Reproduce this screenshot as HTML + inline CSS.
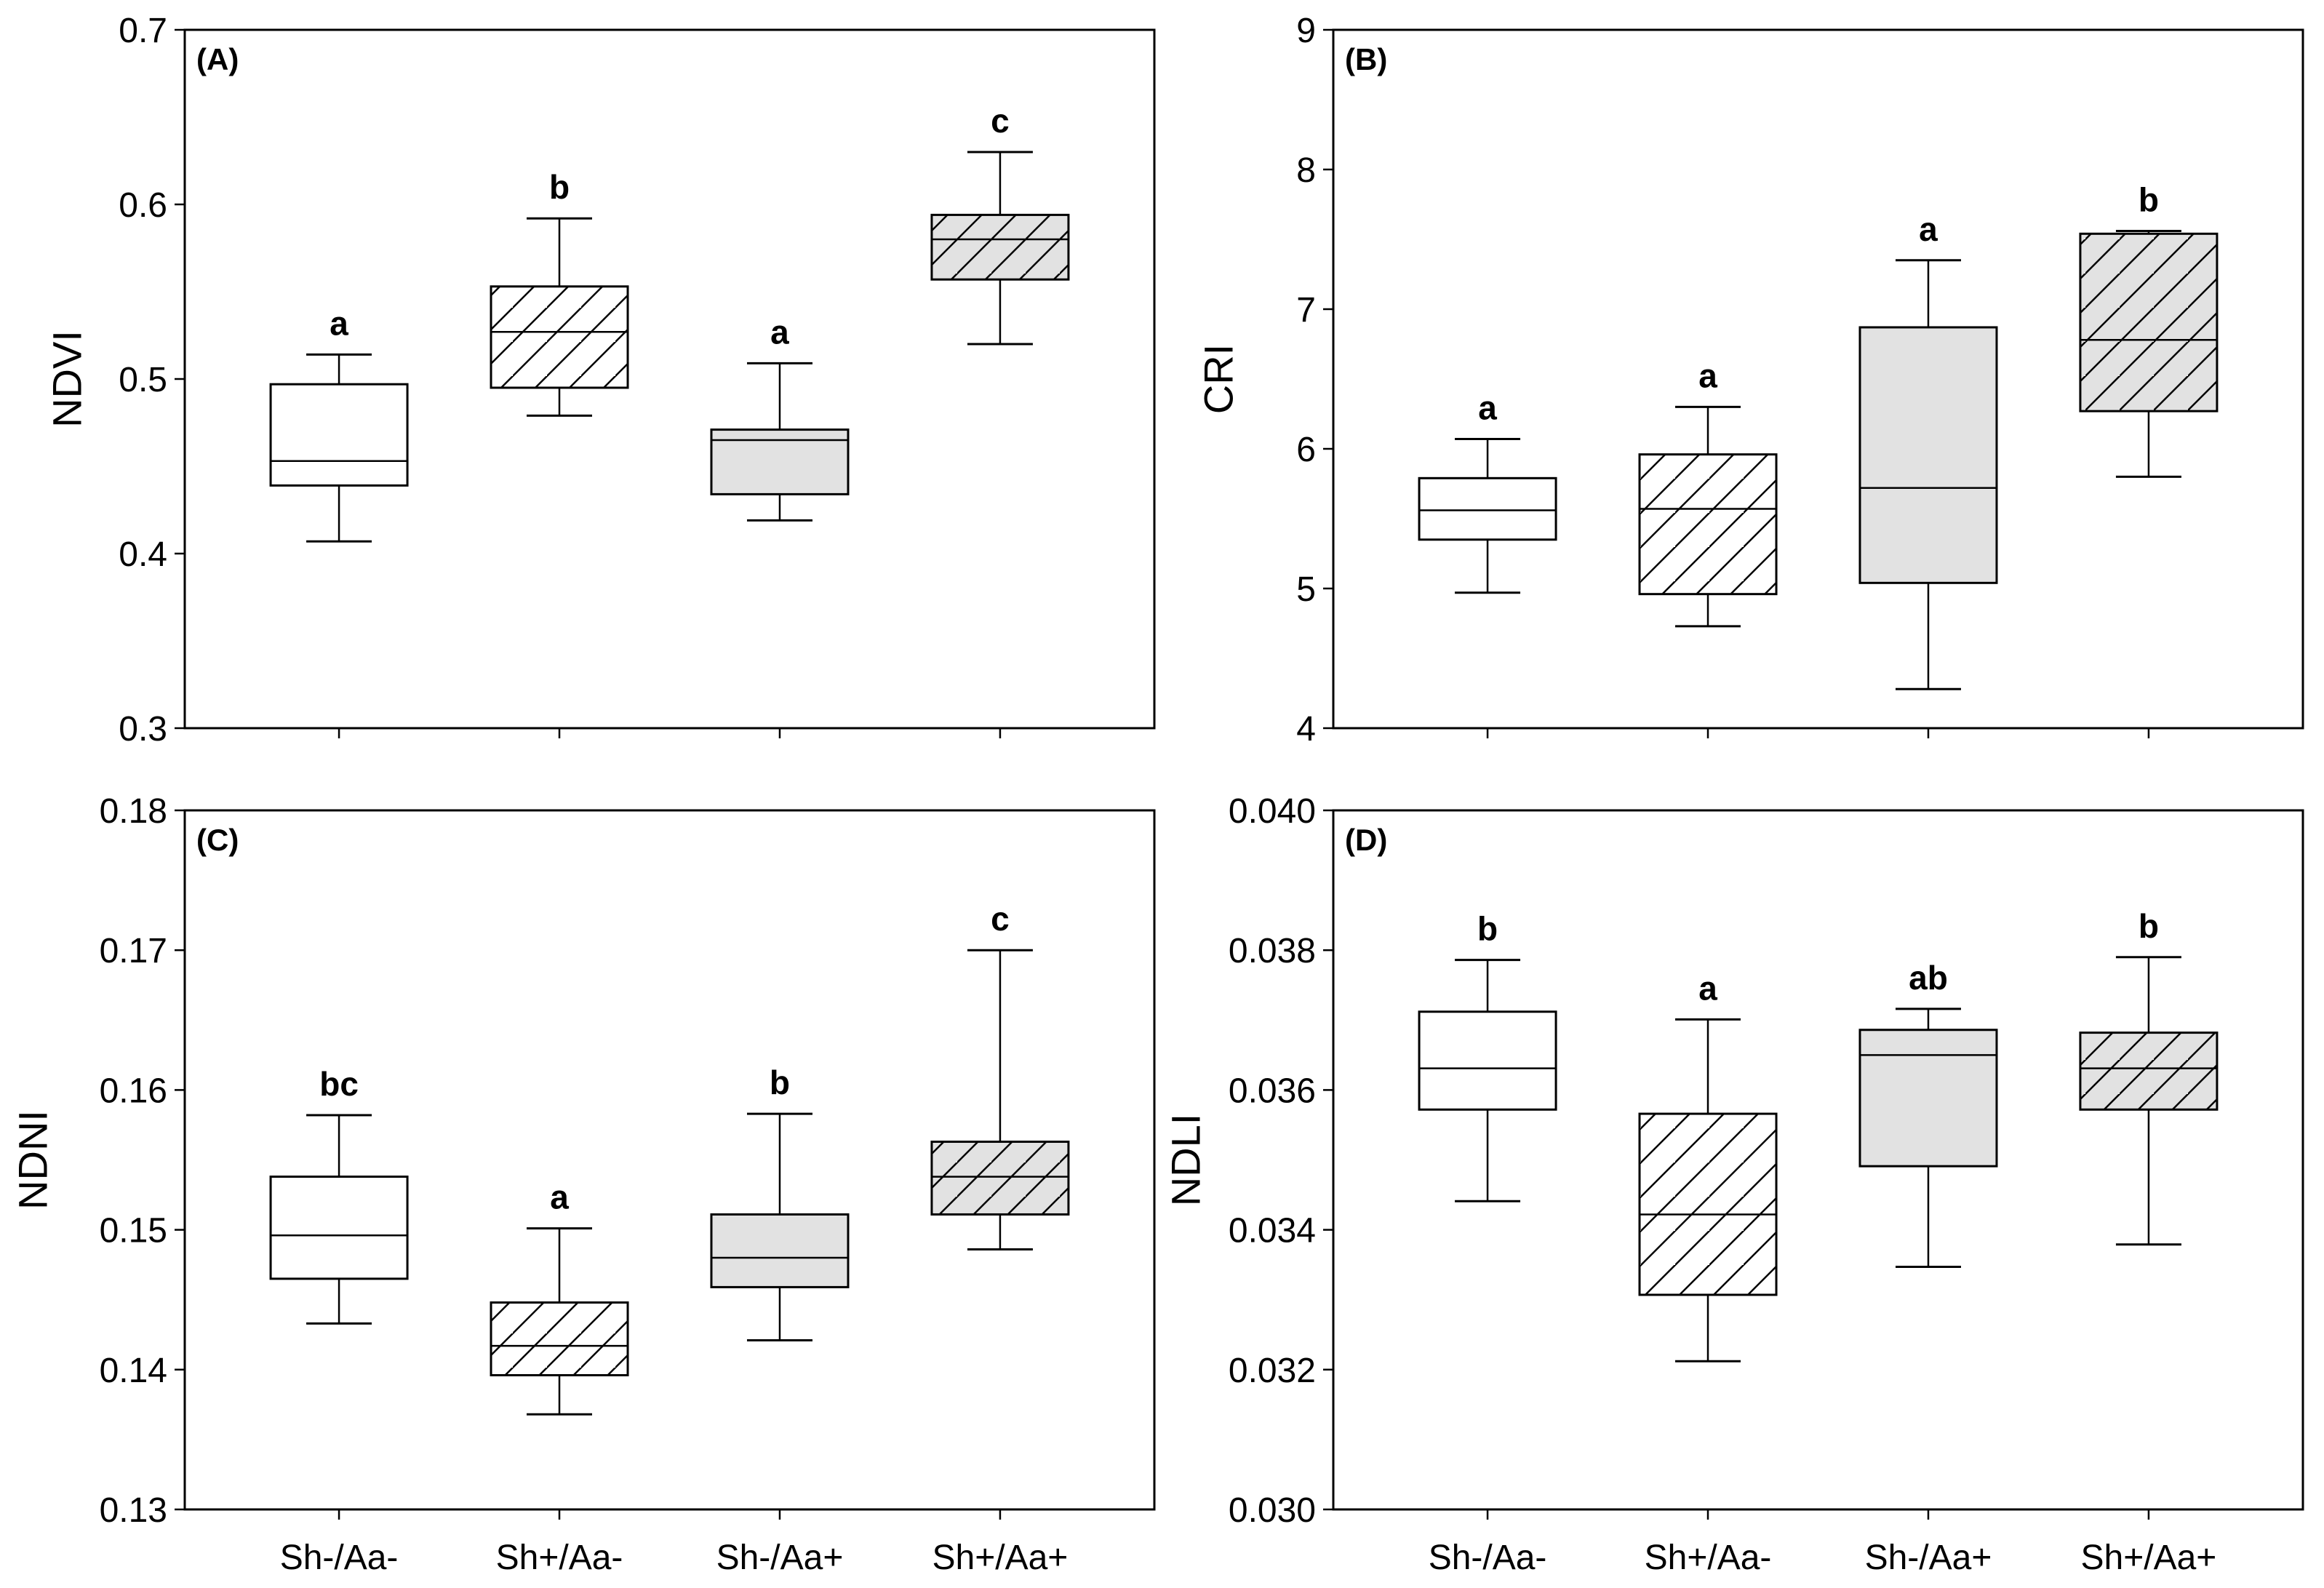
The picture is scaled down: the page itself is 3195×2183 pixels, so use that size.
<!DOCTYPE html>
<html><head><meta charset="utf-8"><style>
html,body{margin:0;padding:0;background:#fff;}
svg{display:block;font-family:"Liberation Sans",Arial,sans-serif;}
</style></head><body>
<svg id="chart" width="3195" height="2183" viewBox="0 0 3195 2183">
<defs>
<pattern id="hatch" patternUnits="userSpaceOnUse" width="47" height="47">
<path d="M-10,57 L57,-10 M-57,57 L57,-57 M10,104 L104,-10" stroke="#000" stroke-width="2.5"/>
</pattern>
</defs>
</svg>
<script>
const categories = ["Sh-/Aa-","Sh+/Aa-","Sh-/Aa+","Sh+/Aa+"];
const fills = ["white","hatch","gray","grayhatch"];
// [whiskerLow, q1, median, q3, whiskerHigh]
const ndviValues = [[0.407,0.439,0.453,0.497,0.514],[0.479,0.495,0.527,0.553,0.592],[0.419,0.434,0.465,0.471,0.509],[0.520,0.557,0.580,0.594,0.630]];
const ndviLetters = ["a","b","a","c"];
const ndviTicks = ["0.3","0.4","0.5","0.6","0.7"];
const criValues = [[4.97,5.35,5.56,5.79,6.07],[4.73,4.96,5.57,5.96,6.30],[4.28,5.04,5.72,6.87,7.35],[5.80,6.27,6.78,7.54,7.56]];
const criLetters = ["a","a","a","b"];
const criTicks = ["4","5","6","7","8","9"];
const ndniValues = [[0.1433,0.1465,0.1496,0.1538,0.1582],[0.1368,0.1396,0.1417,0.1448,0.1501],[0.1421,0.1459,0.1480,0.1511,0.1583],[0.1486,0.1511,0.1538,0.1563,0.1700]];
const ndniLetters = ["bc","a","b","c"];
const ndniTicks = ["0.13","0.14","0.15","0.16","0.17","0.18"];
const ndliValues = [[0.03441,0.03572,0.03631,0.03712,0.03786],[0.03212,0.03307,0.03422,0.03566,0.03701],[0.03347,0.03491,0.03650,0.03686,0.03716],[0.03379,0.03572,0.03631,0.03682,0.03790]];
const ndliLetters = ["b","a","ab","b"];
const ndliTicks = ["0.030","0.032","0.034","0.036","0.038","0.040"];

const NS="http://www.w3.org/2000/svg";
const svg=document.getElementById('chart');
function mk(tag,attrs,parent){const e=document.createElementNS(NS,tag);for(const k in attrs)e.setAttribute(k,attrs[k]);(parent||svg).appendChild(e);return e;}

const panels=[
 {id:"a",label:"(A)",title:"NDVI",vals:ndviValues,letters:ndviLetters,ticks:ndviTicks,x0:254,x1:1587,y0:41,y1:1001,tx:92,showX:false},
 {id:"b",label:"(B)",title:"CRI",vals:criValues,letters:criLetters,ticks:criTicks,x0:1833,x1:3166,y0:41,y1:1001,tx:1675,showX:false},
 {id:"c",label:"(C)",title:"NDNI",vals:ndniValues,letters:ndniLetters,ticks:ndniTicks,x0:254,x1:1587,y0:1114,y1:2075,tx:45,showX:true},
 {id:"d",label:"(D)",title:"NDLI",vals:ndliValues,letters:ndliLetters,ticks:ndliTicks,x0:1833,x1:3166,y0:1114,y1:2075,tx:1630,showX:true}
];

panels.forEach(p=>{
 const g=mk('g',{});
 
 
 const tmin=parseFloat(p.ticks[0]), tmax=parseFloat(p.ticks[p.ticks.length-1]);
 const yS=v=>p.y1-(v-tmin)/(tmax-tmin)*(p.y1-p.y0);
 const xS=i=>p.x0+(i+1-0.3)/4.4*(p.x1-p.x0);
 const frame=mk('rect',{x:p.x0,y:p.y0,width:p.x1-p.x0,height:p.y1-p.y0,fill:"none",stroke:"#000","stroke-width":3},g);
 
 
 p.ticks.forEach(t=>{
  const y=yS(parseFloat(t));
  mk('line',{x1:p.x0-14,x2:p.x0,y1:y,y2:y,stroke:"#000","stroke-width":2.5},g);
  const tl=mk('text',{x:p.x0-24,y:y+17,"text-anchor":"end","font-size":48},g);
  tl.textContent=t;
  
  
 });
 const yt=mk('text',{x:p.tx,y:(p.y0+p.y1)/2,"text-anchor":"middle","font-size":56,transform:`rotate(-90 ${p.tx} ${(p.y0+p.y1)/2})`,dy:"0.35em"},g);
 yt.textContent=p.title;
 
 
 const pl=mk('text',{x:p.x0+16,y:p.y0+55,"font-size":42,"font-weight":"bold"},g);
 pl.textContent=p.label;
 
 
 const bw=188, cw=90;
 p.vals.forEach((v,i)=>{
  const cx=xS(i);
  mk('line',{x1:cx,x2:cx,y1:p.y1,y2:p.y1+14,stroke:"#000","stroke-width":2.5},g);
  if(p.showX){
   const xl=mk('text',{x:cx,y:p.y1+82,"text-anchor":"middle","font-size":48},g);
   xl.textContent=categories[i];
   
   
  }
  const bg=mk('g',{},g);
  
  
  const [lo,q1,md,q3,hi]=v;
  mk('line',{x1:cx,x2:cx,y1:yS(hi),y2:yS(q3),stroke:"#000","stroke-width":2.5},bg);
  mk('line',{x1:cx,x2:cx,y1:yS(q1),y2:yS(lo),stroke:"#000","stroke-width":2.5},bg);
  mk('line',{x1:cx-cw/2,x2:cx+cw/2,y1:yS(hi),y2:yS(hi),stroke:"#000","stroke-width":3},bg);
  mk('line',{x1:cx-cw/2,x2:cx+cw/2,y1:yS(lo),y2:yS(lo),stroke:"#000","stroke-width":3},bg);
  const f=fills[i];
  const base=(f==="gray"||f==="grayhatch")?"#e2e2e2":"#fff";
  mk('rect',{x:cx-bw/2,y:yS(q3),width:bw,height:yS(q1)-yS(q3),fill:base},bg);
  if(f==="hatch"||f==="grayhatch") mk('rect',{x:cx-bw/2,y:yS(q3),width:bw,height:yS(q1)-yS(q3),fill:"url(#hatch)"},bg);
  mk('rect',{x:cx-bw/2,y:yS(q3),width:bw,height:yS(q1)-yS(q3),fill:"none",stroke:"#000","stroke-width":3},bg);
  mk('line',{x1:cx-bw/2,x2:cx+bw/2,y1:yS(md),y2:yS(md),stroke:"#000","stroke-width":2.5},bg);
  const lt=mk('text',{x:cx,y:yS(hi)-27,"text-anchor":"middle","font-size":46,"font-weight":"bold"},g);
  lt.textContent=p.letters[i];
  
  
 });
});
</script>
</body></html>
